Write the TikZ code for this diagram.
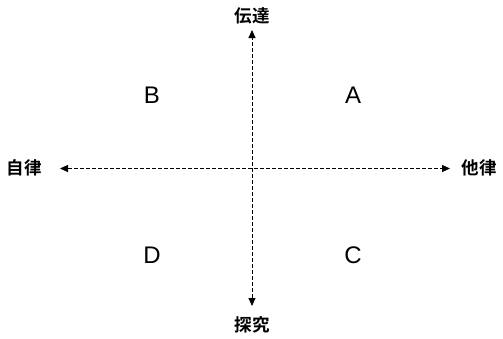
\documentclass[tikz,border=0pt]{standalone}
\usepackage{fontspec}
\setmainfont{Liberation Sans}
\newfontfamily\cjk{Noto Sans CJK JP Bold}
\usetikzlibrary{arrows.meta}
\tikzset{
  axis/.style={line width=0.9pt, dash pattern=on 4pt off 2pt,
    {Triangle[length=8pt,width=7pt]}-{Triangle[length=8pt,width=7pt]}},
  pole/.style={font=\cjk\fontsize{17.5}{17.5}\selectfont, inner sep=0pt},
  quad/.style={font=\fontsize{24}{24}\selectfont, inner sep=0pt}
}
\begin{document}
\begin{tikzpicture}[x=1pt,y=-1pt]
  \useasboundingbox (0,0) rectangle (503,338);
  % axis end points
  \coordinate (top) at (252,30);
  \coordinate (bottom) at (252,306);
  \coordinate (left) at (60,168.5);
  \coordinate (right) at (450,168.5);
  \draw[axis] (bottom) -- (top);
  \draw[axis] (left) -- (right);
  % pole labels
  \node[pole] (n) at (252,16) {伝達};
  \node[pole] (s) at (252,325) {探究};
  \node[pole] (w) at (24,168) {自律};
  \node[pole] (e) at (479,168) {他律};
  % quadrant labels
  \node[quad] (A) at (353,95) {A};
  \node[quad] (B) at (152,95) {B};
  \node[quad] (C) at (353,255) {C};
  \node[quad] (D) at (152,255) {D};
\end{tikzpicture}
\end{document}
